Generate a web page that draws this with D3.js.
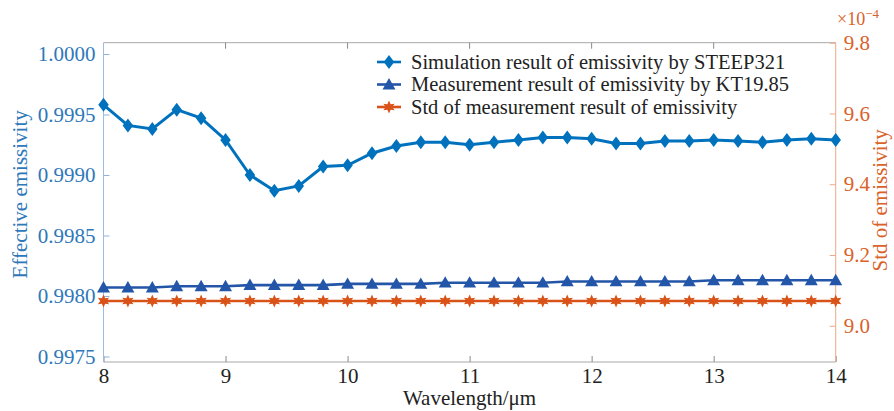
<!DOCTYPE html>
<html>
<head>
<meta charset="utf-8">
<script src="https://cdn.jsdelivr.net/npm/d3@7"></script>
<style>
  body { margin: 0; background: #fff; }
  svg text { font-family: "Liberation Serif", "DejaVu Serif", "Noto Serif", serif !important; }
</style>
</head>
<body>
<div id="chart"></div>
<script>
// wavelength grid (um)
const wavelength = [8, 8.2, 8.4, 8.6, 8.8, 9, 9.2, 9.4, 9.6, 9.8, 10, 10.2, 10.4, 10.6, 10.8,
                    11, 11.2, 11.4, 11.6, 11.8, 12, 12.2, 12.4, 12.6, 12.8, 13, 13.2, 13.4, 13.6, 13.8, 14];
// STEEP321 simulated emissivity
const simulation = [0.99958, 0.99941, 0.99938, 0.99954, 0.99947, 0.99929, 0.99900, 0.99887, 0.99891, 0.99907,
                    0.99908, 0.99918, 0.99924, 0.99927, 0.99927, 0.99925, 0.99927, 0.99929, 0.99931, 0.99931,
                    0.99930, 0.99926, 0.99926, 0.99928, 0.99928, 0.99929, 0.99928, 0.99927, 0.99929, 0.99930, 0.99929];
// KT19.85 measured emissivity
const measurement = [0.99807, 0.99807, 0.99807, 0.99808, 0.99808, 0.99808, 0.99809, 0.99809, 0.99809, 0.99809,
                     0.99810, 0.99810, 0.99810, 0.99810, 0.99811, 0.99811, 0.99811, 0.99811, 0.99811, 0.99812,
                     0.99812, 0.99812, 0.99812, 0.99812, 0.99812, 0.99813, 0.99813, 0.99813, 0.99813, 0.99813, 0.99813];
// std of measurement (x1e-4)
const stdValues = [9.07, 9.07, 9.07, 9.07, 9.07, 9.07, 9.07, 9.07, 9.07, 9.07,
                   9.07, 9.07, 9.07, 9.07, 9.07, 9.07, 9.07, 9.07, 9.07, 9.07,
                   9.07, 9.07, 9.07, 9.07, 9.07, 9.07, 9.07, 9.07, 9.07, 9.07, 9.07];

const xTicks = [8, 9, 10, 11, 12, 13, 14];
const leftTicks = [0.9975, 0.9980, 0.9985, 0.9990, 0.9995, 1.0000];
const rightTicks = [9.0, 9.2, 9.4, 9.6, 9.8];
const legendLabels = ["Simulation result of emissivity by STEEP321",
                      "Measurement result of emissivity by KT19.85",
                      "Std of measurement result of emissivity"];

const simColor = "#0072BD", measColor = "#2356A8", stdColor = "#D95319";
const leftText = "#2E78BA", rightText = "#D9622B";
const serif = "Liberation Serif";

const W = 894, H = 411;
const L = 103.5, R = 835.7, T = 42.7, B = 362;

const svg = d3.select("#chart").append("svg").attr("width", W).attr("height", H);

const x = d3.scaleLinear().domain([8, 14]).range([L, R]);
const yL = d3.scaleLinear().domain([0.9975, 1.0]).range([356.5, 54]);
const yR = d3.scaleLinear().domain([9.0, 9.8]).range([325.8, T]);

// frame
svg.append("line").attr("x1", L).attr("x2", R).attr("y1", T).attr("y2", T).attr("stroke", "#a8a8a8");
svg.append("line").attr("x1", L).attr("x2", R).attr("y1", B).attr("y2", B).attr("stroke", "#a8a8a8");

// bottom axis
const gx = svg.append("g").attr("transform", `translate(0,${B})`)
  .call(d3.axisBottom(x).tickValues(xTicks).tickSize(-6).tickPadding(6).tickFormat(d3.format("d")));
gx.attr("font-family", serif);
gx.select(".domain").remove();
gx.selectAll("line").attr("stroke", "#8a8a8a");
gx.selectAll("text").attr("fill", "#222").attr("font-size", 21);

// top ticks
svg.append("g").selectAll("line").data(xTicks.slice(1, -1)).join("line")
  .attr("x1", d => x(d)).attr("x2", d => x(d)).attr("y1", T).attr("y2", T + 6).attr("stroke", "#8a8a8a");

// left axis
const gl = svg.append("g").attr("transform", `translate(${L},0)`)
  .call(d3.axisLeft(yL).tickValues(leftTicks).tickSize(-6).tickPadding(8).tickFormat(d3.format(".4f")));
gl.attr("font-family", serif);
gl.select(".domain").remove();
gl.selectAll("line").attr("stroke", "#8fb3d9");
gl.selectAll("text").attr("fill", leftText).attr("font-size", 21);
svg.append("line").attr("x1", L).attr("x2", L).attr("y1", T).attr("y2", B).attr("stroke", "#9dbde0");

// right axis
const gr = svg.append("g").attr("transform", `translate(${R},0)`)
  .call(d3.axisRight(yR).tickValues(rightTicks).tickSize(-6).tickPadding(8).tickFormat(d3.format(".1f")));
gr.attr("font-family", serif);
gr.select(".domain").remove();
gr.selectAll("line").attr("stroke", "#eca98a");
gr.selectAll("text").attr("fill", rightText).attr("font-size", 21);
svg.append("line").attr("x1", R).attr("x2", R).attr("y1", T).attr("y2", B).attr("stroke", "#eca98a");

// axis titles
svg.append("text").attr("x", (L + R) / 2).attr("y", 405).attr("text-anchor", "middle")
  .attr("font-family", serif).attr("font-size", 21).attr("fill", "#222").text("Wavelength/μm");
svg.append("text").attr("transform", `translate(27,${(T + B) / 2 - 8}) rotate(-90)`).attr("text-anchor", "middle")
  .attr("font-family", serif).attr("font-size", 21).attr("fill", leftText).text("Effective emissivity");
svg.append("text").attr("transform", `translate(887,${(T + B) / 2 - 2}) rotate(-90)`).attr("text-anchor", "middle")
  .attr("font-family", serif).attr("font-size", 21).attr("fill", rightText).text("Std of emissivity");
const mult = svg.append("text").attr("x", 837).attr("y", 25).attr("fill", rightText)
  .attr("font-family", serif).attr("font-size", 18);
mult.append("tspan").text("×10");
mult.append("tspan").attr("dy", -7).attr("font-size", 13).text("−4");

// marker shapes
const diamond = s => `M0,${-s}L${s * 0.75},0L0,${s}L${-s * 0.75},0Z`;
const triangle = s => `M0,${-s}L${s},${s * 0.75}L${-s},${s * 0.75}Z`;
const hexagram = s => {
  const pts = [];
  for (let i = 0; i < 12; i++) {
    const r = i % 2 === 0 ? s : s * 0.5;
    const a = Math.PI / 6 * i - Math.PI / 2;
    pts.push([r * Math.cos(a), r * Math.sin(a)]);
  }
  return "M" + pts.map(p => p.join(",")).join("L") + "Z";
};

function paint(xs, ys, yScale, color, width, shape) {
  const data = xs.map((d, i) => [d, ys[i]]);
  svg.append("path").datum(data)
    .attr("fill", "none").attr("stroke", color).attr("stroke-width", width)
    .attr("d", d3.line().x(d => x(d[0])).y(d => yScale(d[1])));
  svg.append("g").selectAll("path").data(data).join("path")
    .attr("transform", d => `translate(${x(d[0])},${yScale(d[1])})`)
    .attr("d", shape).attr("fill", color);
}

paint(wavelength, stdValues, yR, stdColor, 2.6, hexagram(6.5));
paint(wavelength, measurement, yL, measColor, 2.6, triangle(6.5));
paint(wavelength, simulation, yL, simColor, 3, diamond(7));

// legend
const legendRows = [
  { label: legendLabels[0], color: simColor, shape: diamond(7), y: 62 },
  { label: legendLabels[1], color: measColor, shape: triangle(6.5), y: 84.5 },
  { label: legendLabels[2], color: stdColor, shape: hexagram(6.5), y: 107 }
];
const lg = svg.append("g").selectAll("g").data(legendRows).join("g")
  .attr("transform", d => `translate(0,${d.y})`);
lg.append("line").attr("x1", 377).attr("x2", 401).attr("stroke", d => d.color).attr("stroke-width", 2.6);
lg.append("path").attr("transform", "translate(389,0)").attr("d", d => d.shape).attr("fill", d => d.color);
lg.append("text").attr("x", 411).attr("dy", "0.33em").attr("fill", "#222")
  .attr("font-family", serif).attr("font-size", 20.5).text(d => d.label);
</script>
</body>
</html>
